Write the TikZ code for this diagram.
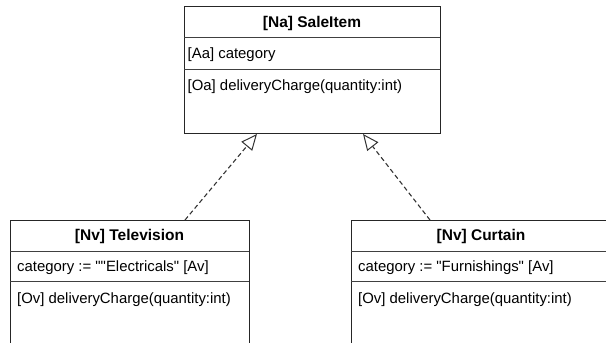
\documentclass[tikz,border=0pt]{standalone}
\usepackage{fontspec}
% TeXOff keeps the plain " as a straight double quote
\setmainfont{Liberation Sans}[Ligatures=TeXOff]
\usetikzlibrary{arrows.meta,calc}
\begin{document}
\begin{tikzpicture}[x=1pt,y=-1pt,
  classbox/.style={draw=black!85,line width=1pt,fill=white,inner sep=0pt,anchor=north west},
  sepline/.style={draw=black!75,line width=1pt},
  title/.style={font=\fontsize{15.5}{18}\selectfont\bfseries,inner sep=0pt},
  member/.style={font=\fontsize{14.9}{17}\selectfont,inner sep=0pt,anchor=west},
  realize/.style={draw=black!80,line width=1.1pt,dash pattern=on 4.5pt off 3pt,
    -{Triangle[open,length=16pt,width=14pt,line width=1pt]}}]
\useasboundingbox (0,0) rectangle (606,343);
\clip (0,0) rectangle (606,343);

% abstract base class
\node[classbox,minimum width=256pt,minimum height=127pt] (sale) at (184,6) {};
\draw[sepline] (184,37.5) -- (440,37.5);
\draw[sepline] (184,69) -- (440,69);
\node[title] (saleT) at (312,23) {[Na] SaleItem};
\node[member] (saleA) at (187.5,54.5) {[Aa] category};
\node[member] (saleO) at (187.5,86.5) {[Oa] deliveryCharge(quantity:int)};

% subclass Television
\node[classbox,minimum width=239pt,minimum height=150pt] (tv) at (10,220) {};
\draw[sepline] (10,251) -- (249,251);
\draw[sepline] (10,281) -- (249,281);
\node[title] (tvT) at (129.5,236) {[Nv] Television};
\node[member] (tvA) at (17,268) {category := ""Electricals" [Av]};
\node[member] (tvO) at (17,299.5) {[Ov] deliveryCharge(quantity:int)};

% subclass Curtain
\node[classbox,minimum width=280pt,minimum height=150pt] (cur) at (351,220) {};
\draw[sepline] (351,251) -- (631,251);
\draw[sepline] (351,281) -- (631,281);
\node[title] (curT) at (481,236) {[Nv] Curtain};
\node[member] (curA) at (358,268) {category := "Furnishings" [Av]};
\node[member] (curO) at (358,299.5) {[Ov] deliveryCharge(quantity:int)};

% realization arrows
\coordinate (tvTail) at ($(tv.north west)+(175,0)$);
\coordinate (curTail) at ($(cur.north west)+(79,0)$);
\coordinate (saleL) at ($(sale.south west)+(73,0)$);
\coordinate (saleR) at ($(sale.south west)+(179,0)$);
\draw[realize] (tvTail) -- (saleL);
\draw[realize] (curTail) -- (saleR);
\end{tikzpicture}
\end{document}
